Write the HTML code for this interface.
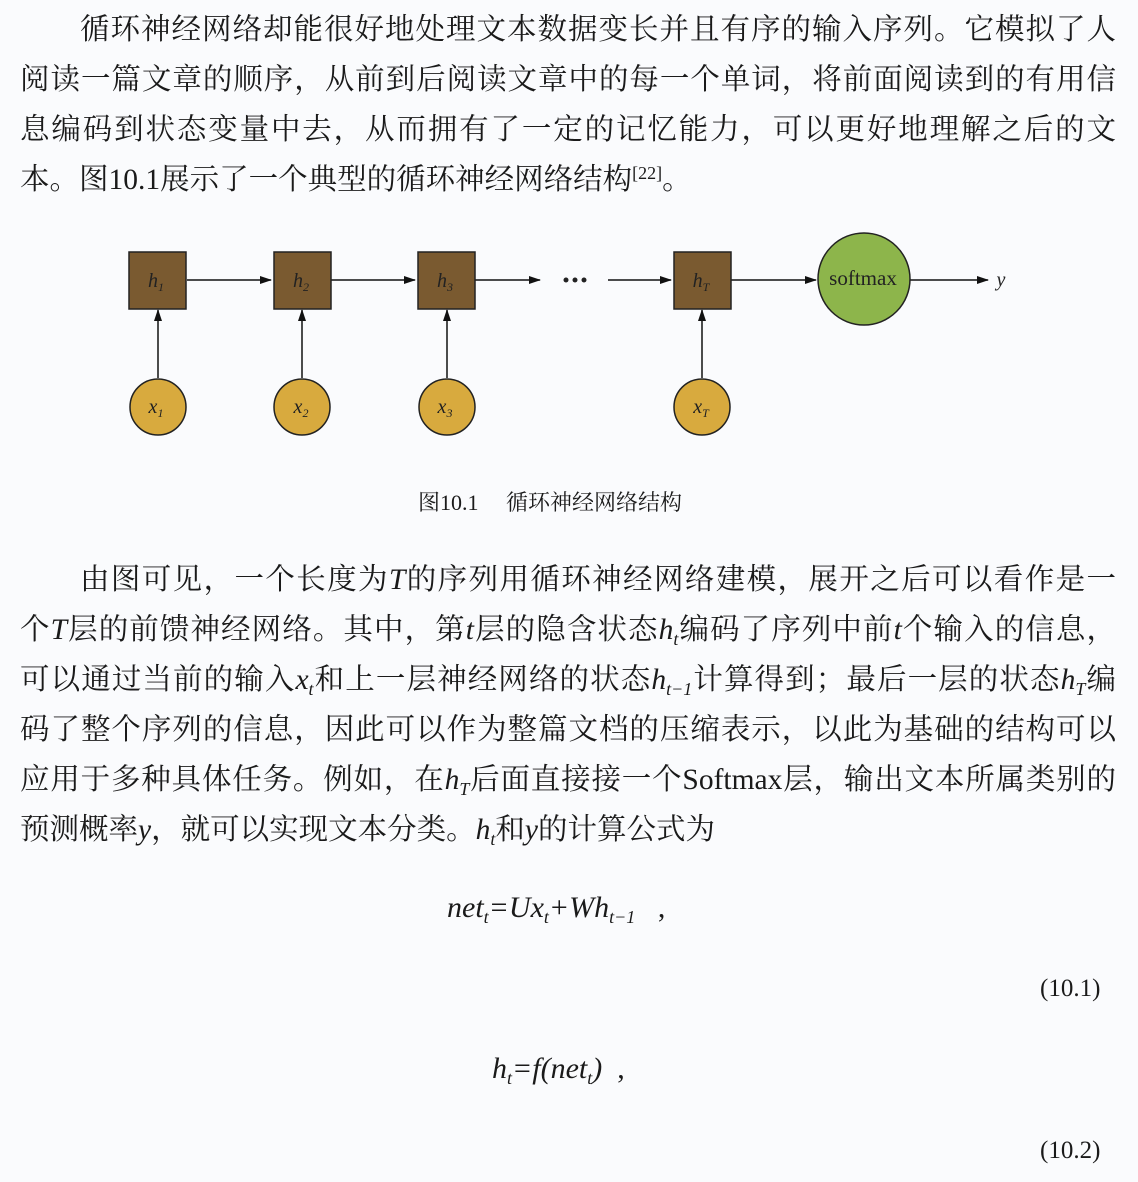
<!DOCTYPE html>
<html><head><meta charset="utf-8"><style>
html,body{margin:0;padding:0;background:#fafbfd;}
body{width:1138px;height:1182px;position:relative;overflow:hidden;font-family:"Liberation Serif","Noto Serif CJK SC",serif;color:#1a1a1a;}
.l{position:absolute;left:20px;width:1096px;font-size:29.5px;line-height:40px;white-space:nowrap;text-align:justify;text-align-last:justify;}
.l.ind{left:80px;width:1036px;}
.n{text-align:left;text-align-last:left;}
i{font-style:italic;}
sub{font-size:18px;font-style:italic;vertical-align:-6px;line-height:0;}
sup{font-size:18px;vertical-align:10px;line-height:0;}
.eq{position:absolute;font-size:30px;font-style:italic;white-space:nowrap;}
.num{position:absolute;left:1040px;font-size:25px;}
</style></head><body>
<div class="l ind" style="top:10px">循环神经网络却能很好地处理文本数据变长并且有序的输入序列。它模拟了人</div>
<div class="l" style="top:60px">阅读一篇文章的顺序，从前到后阅读文章中的每一个单词，将前面阅读到的有用信</div>
<div class="l" style="top:110px">息编码到状态变量中去，从而拥有了一定的记忆能力，可以更好地理解之后的文</div>
<div class="l n" style="top:160px">本。图10.1展示了一个典型的循环神经网络结构<sup>[22]</sup>。</div>

<svg style="position:absolute;left:0;top:0" width="1138" height="480">
<defs><marker id="a" markerWidth="12" markerHeight="8" refX="11" refY="4" orient="auto" markerUnits="userSpaceOnUse"><path d="M0,0L12,4L0,8z" fill="#111"/></marker></defs>
<g stroke="#111" stroke-width="1.5" fill="none">
<line x1="187" y1="280" x2="271" y2="280" marker-end="url(#a)"/>
<line x1="331" y1="280" x2="415" y2="280" marker-end="url(#a)"/>
<line x1="475" y1="280" x2="540" y2="280" marker-end="url(#a)"/>
<line x1="608" y1="280" x2="671" y2="280" marker-end="url(#a)"/>
<line x1="731" y1="280" x2="816" y2="280" marker-end="url(#a)"/>
<line x1="910" y1="280" x2="988" y2="280" marker-end="url(#a)"/>
<line x1="158" y1="378" x2="158" y2="310" marker-end="url(#a)"/>
<line x1="302" y1="378" x2="302" y2="310" marker-end="url(#a)"/>
<line x1="447" y1="378" x2="447" y2="310" marker-end="url(#a)"/>
<line x1="702" y1="378" x2="702" y2="310" marker-end="url(#a)"/>
</g>
<g fill="#7a5a30" stroke="#222" stroke-width="1.5">
<rect x="129" y="252" width="57" height="57"/><rect x="274" y="252" width="57" height="57"/>
<rect x="418" y="252" width="57" height="57"/><rect x="674" y="252" width="57" height="57"/>
</g>
<g fill="#d8aa3e" stroke="#222" stroke-width="1.5">
<circle cx="158" cy="407" r="28"/><circle cx="302" cy="407" r="28"/><circle cx="447" cy="407" r="28"/><circle cx="702" cy="407" r="28"/>
</g>
<circle cx="864" cy="279" r="46" fill="#8db54b" stroke="#222" stroke-width="1.5"/>
<g fill="#222"><circle cx="566" cy="280" r="2.5"/><circle cx="575" cy="280" r="2.5"/><circle cx="584" cy="280" r="2.5"/></g>
<g font-family="Liberation Serif,serif" font-size="20" font-style="italic" fill="#222" text-anchor="middle">
<text x="156" y="287">h<tspan font-size="12" dy="4">1</tspan></text>
<text x="301" y="287">h<tspan font-size="12" dy="4">2</tspan></text>
<text x="445" y="287">h<tspan font-size="12" dy="4">3</tspan></text>
<text x="701" y="287">h<tspan font-size="12" dy="4">T</tspan></text>
<text x="156" y="413">x<tspan font-size="12" dy="4">1</tspan></text>
<text x="301" y="413">x<tspan font-size="12" dy="4">2</tspan></text>
<text x="445" y="413">x<tspan font-size="12" dy="4">3</tspan></text>
<text x="701" y="413">x<tspan font-size="12" dy="4">T</tspan></text>
<text x="1001" y="286">y</text>
<text x="863" y="285" font-style="normal" font-size="21">softmax</text>
</g>
</svg>
<div style="position:absolute;left:418px;top:486px;font-size:22px;">图10.1&nbsp;&nbsp;&nbsp;&nbsp;&nbsp;循环神经网络结构</div>

<div class="l ind" style="top:560px">由图可见，一个长度为<i>T</i>的序列用循环神经网络建模，展开之后可以看作是一</div>
<div class="l" style="top:610px">个<i>T</i>层的前馈神经网络。其中，第<i>t</i>层的隐含状态<i>h</i><sub>t</sub>编码了序列中前<i>t</i>个输入的信息，</div>
<div class="l" style="top:660px">可以通过当前的输入<i>x</i><sub>t</sub>和上一层神经网络的状态<i>h</i><sub>t−1</sub>计算得到；最后一层的状态<i>h</i><sub>T</sub>编</div>
<div class="l" style="top:710px">码了整个序列的信息，因此可以作为整篇文档的压缩表示，以此为基础的结构可以</div>
<div class="l" style="top:760px">应用于多种具体任务。例如，在<i>h</i><sub>T</sub>后面直接接一个Softmax层，输出文本所属类别的</div>
<div class="l n" style="top:810px">预测概率<i>y</i>，就可以实现文本分类。<i>h</i><sub>t</sub>和<i>y</i>的计算公式为</div>

<div class="eq" style="left:447px;top:891px">net<sub>t</sub>=Ux<sub>t</sub>+Wh<sub>t−1</sub> <span style="font-style:normal">&nbsp;&nbsp;,</span></div>
<div class="num" style="top:975px">(10.1)</div>
<div class="eq" style="left:492px;top:1052px">h<sub>t</sub>=f(net<sub>t</sub>) <span style="font-style:normal">&nbsp;,</span></div>
<div class="num" style="top:1137px">(10.2)</div>
</body></html>
